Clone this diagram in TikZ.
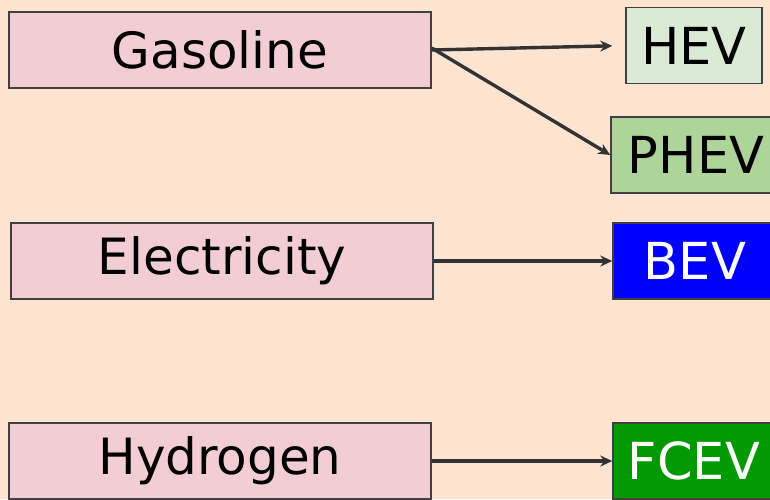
\documentclass[tikz,border=0pt]{standalone}
\usepackage{fontspec}
\setmainfont{DejaVu Sans}
\usetikzlibrary{arrows.meta,positioning}
\definecolor{peach}{HTML}{FCE4D0}
\definecolor{rosebox}{HTML}{F2CED4}
\definecolor{edgegray}{HTML}{404040}
\definecolor{palegreen}{HTML}{DAEAD4}
\definecolor{midgreen}{HTML}{AED49A}
\definecolor{purpleblue}{HTML}{0000FF}
\definecolor{deepgreen}{HTML}{009A00}
\begin{document}
\begin{tikzpicture}[x=1pt,y=-1pt,>={Stealth[length=12pt,width=11pt]},
 fuel/.style={draw=edgegray,line width=1.5pt,fill=rosebox,inner sep=0pt,
  minimum width=422pt,minimum height=76pt,font=\fontsize{50}{58}\selectfont},
 car/.style={draw=edgegray,line width=1.5pt,inner sep=0pt,minimum height=76pt,
  font=\fontsize{51}{58}\selectfont},
 link/.style={->,draw=black!80,line width=3.4pt}]
\fill[peach] (0,0) rectangle (770,499);
\clip (0,0) rectangle (770,499);
\node[fuel] (gas) at (220,50) {Gasoline};
\node[fuel] (elec) at (222,261) {Electricity};
\node[fuel] (hyd) at (220,461) {Hydrogen};
\node[car,fill=palegreen,minimum width=136pt] (hev) at (694,45.5) {HEV};
\node[car,fill=midgreen,minimum width=170pt] (phev) at (696,155) {PHEV};
\node[car,fill=purpleblue,text=white,minimum width=164pt] (bev) at (695,261) {BEV};
\node[car,fill=deepgreen,text=white,minimum width=162pt] (fcev) at (694,461) {FCEV};
\draw[link,shorten >=13pt] (gas.east)--(hev.west);
\draw[link] ([yshift=2pt]gas.east)--(phev.west);
\draw[link] (elec)--(bev);
\draw[link] (hyd)--(fcev);
\end{tikzpicture}
\end{document}
